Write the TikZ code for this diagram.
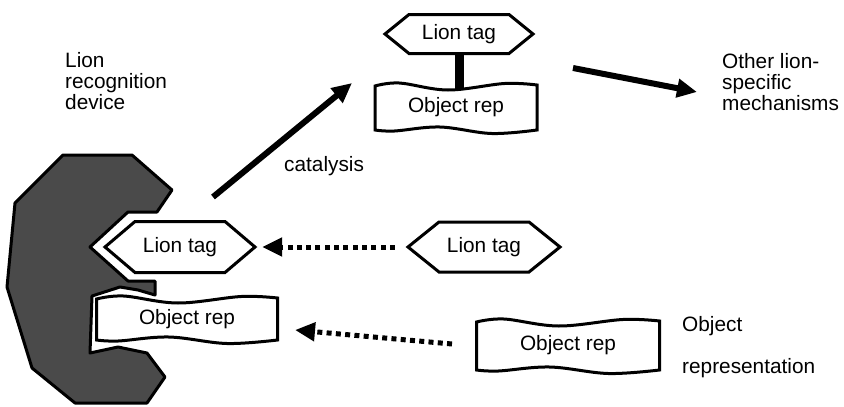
\documentclass[tikz,border=0pt]{standalone}
\usepackage{fontspec}
\setmainfont{Liberation Sans}
\usetikzlibrary{arrows.meta}

\definecolor{devgray}{RGB}{74,74,74}

\tikzset{
  outline/.style={draw=black, line width=3pt, fill=white, line join=miter},
  lbl/.style={font=\fontsize{20.8}{20.8}\selectfont, inner sep=0pt},
  txt/.style={font=\fontsize{20.8}{20.8}\selectfont, inner sep=0pt, align=left},
  solidarrow/.style={line width=6pt, -{Triangle[length=20pt,width=18pt]}},
  dotarrow/.style={line width=5pt, dash pattern=on 5pt off 4.3pt, -{Triangle[length=20pt,width=18pt]}},
  device/.style={fill=devgray, draw=black, line width=3pt, line join=round},
}

% hexagonal "Lion tag": name, x, y, half width, half height, point depth
\newcommand\lionhex[6]{%
  \draw[outline] ({#2-#4},#3) -- ({#2-#4+#6},{#3-#5}) -- ({#2+#4-#6},{#3-#5})
    -- ({#2+#4},#3) -- ({#2+#4-#6},{#3+#5}) -- ({#2-#4+#6},{#3+#5}) -- cycle;
  \node[lbl, minimum width={2*#4}, minimum height={2*#5}] (#1) at (#2,#3) {Lion tag};
}

% wavy "Object rep" banner: name, x, y, half width, half height
\newcommand\objbox[5]{%
  \draw[outline]
    plot[smooth,tension=0.6] coordinates {({#2-#4},{#3-#5+1}) ({#2-0.7*#4},{#3-#5-2})
      ({#2-0.1*#4},{#3-#5+5}) ({#2+0.6*#4},{#3-#5-1.5}) ({#2+#4},{#3-#5})}
    -- plot[smooth,tension=0.6] coordinates {({#2+#4},{#3+#5}) ({#2+0.44*#4},{#3+#5+3.5})
      ({#2-0.2*#4},{#3+#5-3}) ({#2-0.76*#4},{#3+#5+1}) ({#2-#4},{#3+#5})}
    -- cycle;
  \node[lbl, minimum width={2*#4}, minimum height={2*#5}] (#1) at (#2,#3) {Object rep};
}

\begin{document}
\begin{tikzpicture}[x=1pt, y=-1pt]
\useasboundingbox (0,0) rectangle (844,407);

% recognition device with its cavity
\draw[device] (63,155) -- (132,155) -- (172,190) -- (157,212) -- (128,212)
  -- (90,247) -- (128,281) -- (155,281) -- (155,295) -- (138,290) -- (120,287)
  -- (92,296) -- (90,353) -- (118,347) -- (147,353) -- (165,377) -- (147,403)
  -- (75,403) -- (32,368) -- (7,287) -- (15,203) -- cycle;

% tag and representation held by the device
\lionhex{dtag}{180}{247}{75}{25.5}{30}
\objbox{dbox}{187}{319}{90.5}{21}

% free tag and representation
\lionhex{rtag}{484}{247}{76}{25}{31}
\objbox{rbox}{568}{345.5}{91.5}{24.5}

% tagged representation
\objbox{tbox}{456}{107.5}{81}{22.5}
\lionhex{ttag}{459}{34}{74}{19.5}{24}
\draw[line width=9pt, shorten >=-4pt] (ttag.south) -- (ttag.south |- tbox.north);

% labels (multi-line nodes are placed by the baseline of their last line)
\node[txt, anchor=base west] (devlbl) at (65,109) {Lion\\recognition\\device};
\node[txt, anchor=base west] (othlbl) at (722,110) {Other lion-\\specific\\mechanisms};
\node[lbl, anchor=base west] (catlbl) at (284,171) {catalysis};
\node[lbl, anchor=base west] (objlbl) at (682,331) {Object};
\node[lbl, anchor=base west] (replbl) at (682,373) {representation};

% arrows
\coordinate (catS) at (213,197);
\coordinate (catE) at (352,83);
\draw[solidarrow] (catS) -- (catE);
\coordinate (mechS) at (573,68);
\coordinate (mechE) at (697,92);
\draw[solidarrow] (mechS) -- (mechE);
\draw[dotarrow, shorten <=13pt, shorten >=7pt] (rtag.west) -- (dtag.east);
\coordinate (repS) at (452,344);
\coordinate (repE) at (295,330);
\draw[dotarrow] (repS) -- (repE);
\end{tikzpicture}
\end{document}
